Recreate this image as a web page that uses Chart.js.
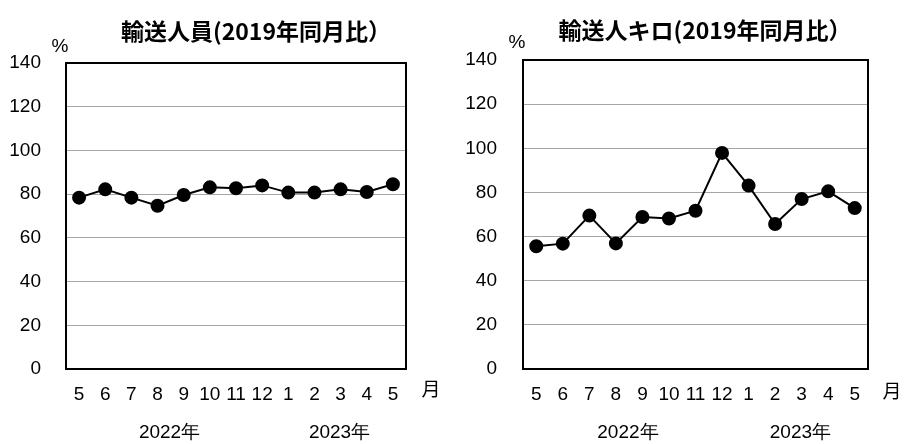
<!DOCTYPE html>
<html>
<head>
<meta charset="utf-8">
<script src="https://cdn.jsdelivr.net/npm/chart.js@4.4.1/dist/chart.umd.min.js"></script>
<style>
  body { margin: 0; background: #fff; }
  #wrap { position: relative; width: 904px; height: 444px; }
  .box { position: absolute; top: 0; height: 444px; }
</style>
</head>
<body>
<div id="wrap">
  <div class="box" style="left:0;width:450px"><canvas id="c1" width="450" height="444"></canvas></div>
  <div class="box" style="left:450px;width:454px"><canvas id="c2" width="454" height="444"></canvas></div>
</div>
<script>
// months on the x axis (2022/5 .. 2023/5)
const months = ['5', '6', '7', '8', '9', '10', '11', '12', '1', '2', '3', '4', '5']
// 輸送人員 (2019年同月比, %)
const passengers = [78.4, 82.2, 78.4, 74.7, 79.6, 83.1, 82.7, 84.0, 80.7, 80.7, 82.2, 81.0, 84.5]
// 輸送人キロ (2019年同月比, %)
const passengerKm = [55.6, 56.8, 69.5, 56.9, 68.9, 68.2, 71.7, 97.9, 83.1, 65.7, 77.0, 80.5, 72.9]
const yearLabels = ['2022年', '2023年']
const titles = ['輸送人員(2019年同月比）', '輸送人キロ(2019年同月比）']

const numFont = '"Liberation Sans", Arial, sans-serif'
const jpFont = '"Noto Sans CJK JP", sans-serif'

// frame, title and the loose labels around the plot
const decoPlugin = {
	id: 'deco',
	beforeDatasetsDraw(chart, args, opts) {
		const a = chart.chartArea
		const ctx = chart.ctx
		ctx.save()
		ctx.strokeStyle = '#000'
		ctx.lineWidth = 2
		ctx.strokeRect(a.left, a.top, a.right - a.left, a.bottom - a.top)
		ctx.restore()
	},
	afterDraw(chart, args, opts) {
		const ctx = chart.ctx
		const x = chart.scales.x
		ctx.save()
		ctx.fillStyle = '#000'
		ctx.textAlign = 'center'
		ctx.textBaseline = 'middle'
		ctx.font = 'bold 23px ' + jpFont
		ctx.fillText(opts.title, opts.titleX, opts.titleY)
		ctx.font = '19px ' + numFont
		ctx.fillText('%', opts.pctX, opts.pctY)
		ctx.font = '19px ' + jpFont
		ctx.fillText('月', opts.monthX, opts.monthY)
		ctx.font = '19px ' + numFont
		ctx.fillText(yearLabels[0], x.getPixelForValue(3) + 12, 433)
		ctx.fillText(yearLabels[1], x.getPixelForValue(9.5) + 12, 433)
		ctx.restore()
	}
}

const makeChart = (id, values, cfg) => {
	let ctx = document.getElementById(id).getContext('2d')
	return new Chart(ctx, {
		type: 'line',
		data: {
			labels: months,
			datasets: [{
				data: values,
				borderColor: '#000',
				backgroundColor: '#000',
				borderWidth: 2,
				pointRadius: 6,
				pointBackgroundColor: '#000',
				pointBorderColor: '#000',
				tension: 0
			}]
		},
		options: {
			responsive: false,
			animation: false,
			layout: { padding: { left: 0, right: cfg.right, top: cfg.top, bottom: 0 } },
			plugins: {
				legend: { display: false },
				tooltip: { enabled: false },
				deco: cfg.deco
			},
			scales: {
				x: {
					offset: true,
					grid: { display: false, drawTicks: false },
					border: { display: false },
					ticks: { color: '#000', font: { family: numFont, size: 19 }, padding: 14, maxRotation: 0, autoSkip: false },
					afterFit: s => { s.height = cfg.xh }
				},
				y: {
					min: 0,
					max: 140,
					grid: { color: '#a6a6a6', lineWidth: 1, drawTicks: false },
					border: { display: false },
					ticks: { stepSize: 20, color: '#000', font: { family: numFont, size: 19 }, padding: cfg.ypad },
					afterFit: s => { s.width = cfg.left }
				}
			}
		},
		plugins: [decoPlugin]
	})
}

makeChart('c1', passengers, {
	left: 66, right: 44, top: 63, xh: 75, ypad: 25,
	deco: { title: titles[0], titleX: 256, titleY: 31, pctX: 60, pctY: 47, monthX: 431, monthY: 389 }
})
makeChart('c2', passengerKm, {
	left: 73, right: 36, top: 60, xh: 75, ypad: 26,
	deco: { title: titles[1], titleX: 255, titleY: 30, pctX: 67, pctY: 43, monthX: 442, monthY: 391 }
})
</script>
</body>
</html>
